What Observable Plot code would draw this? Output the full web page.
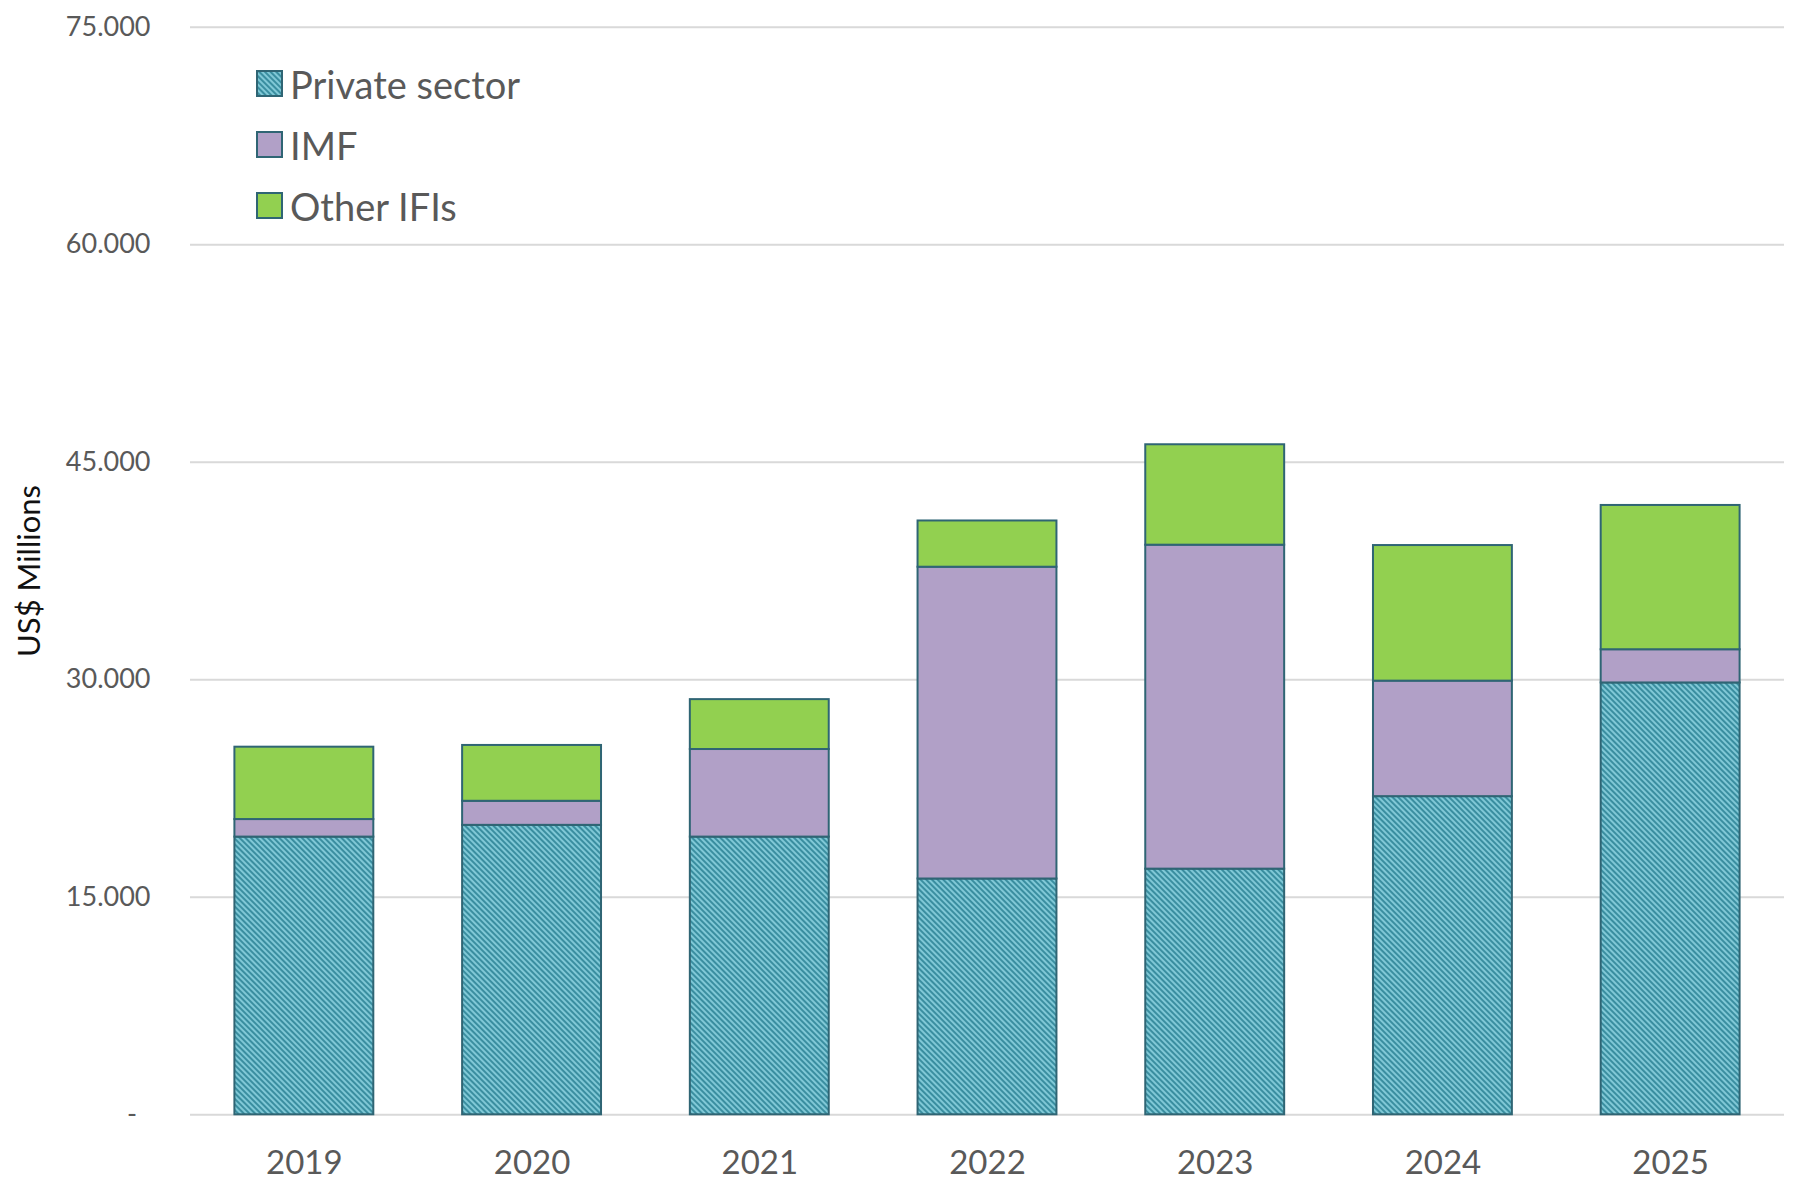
<!DOCTYPE html>
<html><head><meta charset="utf-8">
<script src="https://cdn.jsdelivr.net/npm/d3@7"></script>
<script src="https://cdn.jsdelivr.net/npm/@observablehq/plot@0.6"></script>
<style>
body{margin:0;background:#fff;font-family:Lato,"Open Sans",sans-serif;}
#wrap{position:relative;width:1799px;height:1182px;}
#legend{position:absolute;left:256px;top:53px;}
.row{display:flex;align-items:center;height:61px;font-size:38px;color:#595959;}
.row svg{margin-right:7px;}
</style></head><body>
<div id="wrap"><div id="chart"></div><div id="legend"></div></div>
<script>
const years = ["2019","2020","2021","2022","2023","2024","2025"];
const series = ["Private sector","IMF","Other IFIs"];
const privateSector = [19150, 19960, 19150, 16260, 16940, 21940, 29780];
const imf = [1210, 1660, 6040, 21500, 22340, 7965, 2290];
const otherIFIs = [4990, 3850, 3440, 3190, 6925, 9350, 9950];
const yTicks = [0, 15000, 30000, 45000, 60000, 75000];
const fills = ["url(#hatch)", "#b1a0c7", "#92d050"];

const values = [privateSector, imf, otherIFIs];
const rows = [];
years.forEach((y, i) => series.forEach((s, j) => rows.push({year: y, series: s, value: values[j][i]})));

const loc = d3.formatLocale({decimal: ",", thousands: ".", grouping: [3], currency: ["", ""]});
const fmt = loc.format(",d");

const svg = Plot.plot({
  width: 1799, height: 1182,
  marginTop: 26.7, marginBottom: 67.7, marginLeft: 190, marginRight: 15,
  style: {fontFamily: "Lato, 'Open Sans', sans-serif", background: "#fff"},
  x: {domain: years, paddingInner: 0.39, paddingOuter: 0.195, round: false},
  y: {domain: [0, 75000], nice: false},
  color: {domain: series, range: fills},
  marks: [
    Plot.gridY(yTicks, {stroke: "#d9d9d9", strokeOpacity: 1, strokeWidth: 2}),
    Plot.barY(rows, {x: "year", y: "value", fill: "series", stroke: "#2f6574", strokeWidth: 2}),
    Plot.axisY(yTicks, {tickSize: 0, tickPadding: 40, fontSize: 27, fill: "#595959",
      tickFormat: d => d === 0 ? "-\u2002" : fmt(d), label: null}),
    Plot.axisX({tickSize: 0, tickPadding: 36, fontSize: 33, fill: "#595959", label: null}),
    Plot.text(["US$ Millions"], {frameAnchor: "left", textAnchor: "middle", dx: -160, rotate: -90, fontSize: 31, fill: "#111"})
  ]
});
d3.select(svg).insert("defs", ":first-child").html(
  `<pattern id="hatch" patternUnits="userSpaceOnUse" width="4" height="4" patternTransform="rotate(-45)">
     <rect x="0" y="0" width="4" height="4" fill="#80c8d6"></rect>
     <rect x="0" y="0" width="2" height="4" fill="#3a8ea0"></rect>
   </pattern>`);
document.getElementById("chart").appendChild(svg);

const legend = d3.select("#legend");
series.forEach((s, j) => {
  const r = legend.append("div").attr("class", "row");
  const sw = r.append("svg").attr("width", 27).attr("height", 27);
  sw.append("rect").attr("x", 1).attr("y", 1).attr("width", 25).attr("height", 25)
    .attr("fill", fills[j]).attr("stroke", "#2f6574").attr("stroke-width", 2);
  r.append("span").text(s);
});
</script>
</body></html>
